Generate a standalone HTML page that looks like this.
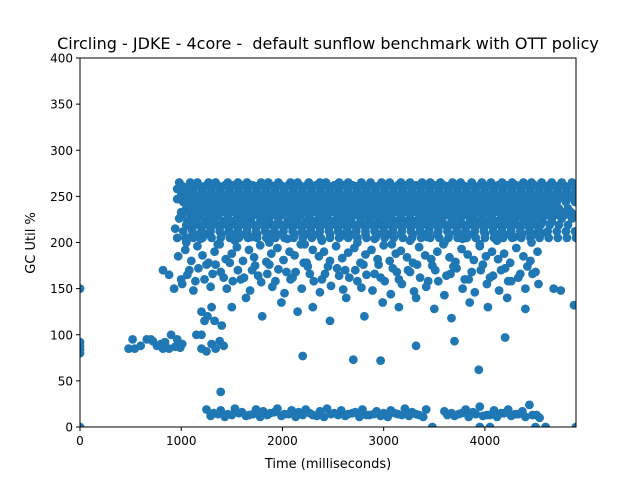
<!DOCTYPE html>
<html><head><meta charset="utf-8">
<style>
html,body{margin:0;padding:0;background:#fff;}
svg{display:block;font-family:"DejaVu Sans","Liberation Sans",sans-serif;}
</style></head>
<body>
<svg id="chart" width="640" height="480" viewBox="0 0 640 480" xmlns="http://www.w3.org/2000/svg">
<rect x="0" y="0" width="640" height="480" fill="#fff"/>
<text x="328" y="49" font-size="16" text-anchor="middle" fill="#000" style="white-space:pre">Circling - JDKE - 4core -  default sunflow benchmark with OTT policy</text>
<g id="marks"></g>
<g id="axes"></g>
<text x="328" y="468" font-size="13" text-anchor="middle">Time (milliseconds)</text>
<text transform="translate(35,243) rotate(-90)" font-size="13" text-anchor="middle">GC Util %</text>
</svg>
<script>
const xTicks = [0, 1000, 2000, 3000, 4000];
const yTicks = [0, 50, 100, 150, 200, 250, 300, 350, 400];
const bandYs = [265, 258, 251, 244, 237, 230, 223, 216, 209];
const bandXs = [
 [980,1090,1160,1270,1340,1460,1560,1650,1790,1860,1960,2080,2150,2260,2370,2430,2560,2650,2780,2870,2980,3060,3170,3260,3380,3460,3560,3680,3760,3870,3970,4060,4170,4270,4380,4460,4560,4660,4760,4860],
 [960,1040,1120,1210,1300,1390,1480,1570,1660,1750,1840,1930,2020,2110,2200,2290,2380,2470,2560,2650,2740,2830,2920,3010,3100,3190,3280,3370,3460,3550,3640,3730,3820,3910,4000,4090,4180,4270,4360,4450,4540,4630,4720,4810,4900],
 [1000,1080,1170,1250,1340,1430,1520,1610,1700,1790,1880,1970,2060,2150,2240,2330,2420,2510,2600,2690,2780,2870,2960,3050,3140,3230,3320,3410,3500,3590,3680,3770,3860,3950,4040,4130,4220,4310,4400,4490,4580,4670,4760,4850],
 [1020,1110,1200,1290,1380,1470,1560,1650,1740,1830,1920,2010,2100,2190,2280,2370,2460,2550,2640,2730,2820,2910,3000,3090,3180,3270,3360,3450,3540,3630,3720,3810,3900,3990,4080,4170,4260,4350,4440,4530,4620,4710,4800,4890],
 [1050,1130,1220,1310,1400,1490,1580,1670,1760,1850,1940,2030,2120,2210,2300,2390,2480,2570,2660,2750,2840,2930,3020,3110,3200,3290,3380,3470,3560,3650,3740,3830,3920,4010,4100,4190,4280,4370,4460,4550,4640,4730,4820],
 [1010,1100,1190,1280,1370,1460,1550,1640,1730,1820,1910,2000,2090,2180,2270,2360,2450,2540,2630,2720,2810,2900,2990,3080,3170,3260,3350,3440,3530,3620,3710,3800,3890,3980,4070,4160,4250,4340,4430,4520,4610,4700,4790,4880],
 [1060,1150,1240,1330,1420,1510,1600,1690,1780,1870,1960,2050,2140,2230,2320,2410,2500,2590,2680,2770,2860,2950,3040,3130,3220,3310,3400,3490,3580,3670,3760,3850,3940,4030,4120,4210,4300,4390,4480,4570,4660],
 [1100,1200,1290,1380,1470,1560,1650,1740,1830,1920,2010,2100,2190,2280,2370,2460,2550,2640,2730,2820,2910,3000,3090,3180,3270,3360,3450,3540,3630,3720,3810,3900,3990,4080,4170,4260,4350,4440,4530],
 [1130,1250,1400,1520,1630,1750,1880,1990,2120,2230,2350,2470,2590,2700,2820,2940,3060,3170,3290,3410,3530,3650,3760,3880,4000,4120,4240,4370,4480]
];
// second interleaved set of band rows (y level + which x-list it reuses)
const band2Ys = [261, 254, 247, 240, 233, 226, 219, 212, 205, 262, 248];
const band2Src = [5, 3, 1, 6, 2, 0, 4, 3, 1, 2, 4];
// scattered mid band points
const midX = [930,1010,1060,1120,1170,1230,1290,1340,1390,1450,1510,1560,1620,1680,1730,1790,1850,1900,1960,2020,2080,2130,2190,2250,2310,2370,2420,2480,2540,2600,2660,2720,2780,2830,2890,2950,3010,3070,3130,3180,3240,3300,3360,3420,3480,3540,3600,3660,3720,3780,3840,3900,3960,4020,4080,4140,4200,4260,4330,4400,4470,4530,
 970,1040,1100,1160,1210,1270,1330,1380,1440,1500,1550,1610,1670,1720,1780,1840,1890,1950,2010,2070,2120,2180,2240,2300,2360,2410,2470,2530,2590,2650,2710,2770,2820,2880,2940,3000,3060,3120,3170,3230,3290,3350,3410,3470,3530,3590,3650,3710,3770,3830,3890,3950,4010,4070,4130,4190,4250,4310,4380,4450,4520,
 820,880,940,1200,1500,1640,1800,1990,2150,2300,2470,2630,2810,2990,3150,3320,3500,3670,3850,4030,4220,4400,
 1000,1080,1140,1250,1310,1420,1480,1590,1700,1760,1870,1930,2040,2100,2210,2270,2390,2450,2560,2620,2740,2800,2910,2970,3090,3150,3260,3330,3440,3510,3620,3690,3800,3870,3980,4050,4160,4230,4350,4420,4500,
 1050,1190,1360,1530,1700,1870,2050,2220,2390,2570,2740,2910,3080,3260,3430,3600,3780,3950,4120,4290,4460,4560];
const midY = [150,155,165,148,172,160,152,176,168,150,158,170,162,148,175,157,166,152,171,145,160,168,150,174,158,146,166,153,172,149,162,170,151,165,148,176,158,144,168,155,170,147,162,152,175,158,143,166,172,150,160,146,170,155,164,148,172,158,162,150,166,155,
 185,192,180,196,186,178,190,198,182,188,195,180,192,184,197,179,188,194,181,190,186,198,178,192,185,190,180,196,183,189,194,178,187,192,182,197,180,188,191,184,178,195,186,182,190,198,184,179,193,187,181,196,185,190,182,188,178,194,185,180,190,
 170,165,215,125,130,140,120,135,125,130,115,140,120,135,130,140,128,118,135,130,140,128,
 160,170,158,176,166,162,178,160,170,164,176,158,168,162,178,166,160,174,164,170,158,176,166,162,172,160,168,176,158,170,164,174,160,168,176,162,170,158,166,174,168,
 200,204,198,202,206,200,204,198,202,206,200,204,198,202,206,200,204,198,202,206,200,210];
const lowX = [480,540,600,660,720,760,800,840,880,900,940,960,990,1010,520,700,820,1200,1250,1300,1340,1380,1420,1260,1330,1400,1150,1230,1300];
const lowY = [85,85,88,95,93,88,90,92,85,100,87,95,86,90,95,95,85,85,82,90,85,93,88,120,115,110,100,115,130];
const botX = [1250,1320,1390,1460,1530,1600,1670,1740,1810,1880,1950,2020,2090,2160,2230,2300,2370,2440,2510,2580,2650,2720,2790,2860,2930,3000,3070,3140,3210,3280,3350,3420,3600,3670,3740,3810,3880,3950,4020,4090,4160,4230,4300,4370,4440,4510,
 1290,1360,1430,1500,1570,1640,1710,1780,1850,1920,1990,2060,2130,2200,2270,2340,2410,2480,2550,2620,2690,2760,2830,2900,2970,3040,3110,3180,3250,3320,3390,3630,3700,3770,3840,3910,3980,4050,4120,4190,4260,4330,4400,4470,4540];
const botY = [19,15,18,14,20,16,13,19,17,15,20,14,18,16,19,13,17,20,15,18,14,16,19,13,17,15,18,14,20,16,13,19,17,15,14,19,16,22,13,18,15,19,14,17,24,13,
 12,14,11,13,15,12,14,11,13,16,12,14,11,13,15,12,11,14,13,12,15,11,13,14,12,11,15,13,12,14,11,13,12,15,11,14,12,13,11,15,12,14,11,13,10];
const outX = [0,0,0,0,0,0,1390,2200,2700,2970,3940,4880,4200,3700,3320,3480,3950,4050,4500,4600,4900,1200,1060,4680,4750];
const outY = [150,92,88,84,80,0,38,77,73,72,62,132,97,93,88,0,0,0,0,0,0,100,205,150,148];

const L=80,R=576,T=58,B=427,XMAX=4900,YMAX=400;
const xs=v=>L+v*(R-L)/XMAX, ys=v=>B-v*(B-T)/YMAX;
const NS="http://www.w3.org/2000/svg";
const marks=document.getElementById('marks');
const clip=document.createElementNS(NS,'clipPath');clip.setAttribute('id','pc');
const cr=document.createElementNS(NS,'rect');cr.setAttribute('x',L);cr.setAttribute('y',T);cr.setAttribute('width',R-L);cr.setAttribute('height',B-T);
clip.appendChild(cr);marks.appendChild(clip);marks.setAttribute('clip-path','url(#pc)');
function dot(x,y){
 const c=document.createElementNS(NS,'circle');
 
 
 c.setAttribute('cx',xs(x).toFixed(1));c.setAttribute('cy',ys(y).toFixed(1));c.setAttribute('r',4.4);c.setAttribute('fill','#1f77b4');
 marks.appendChild(c);
}
bandYs.forEach((y,i)=>bandXs[i].forEach(x=>dot(x,y)));
band2Ys.forEach((y,i)=>bandXs[band2Src[i]].forEach(x=>dot(x,y)));
midX.forEach((x,i)=>dot(x,midY[i]));
lowX.forEach((x,i)=>dot(x,lowY[i]));
botX.forEach((x,i)=>dot(x,botY[i]));
outX.forEach((x,i)=>dot(x,outY[i]));
const ax=document.getElementById('axes');
function el(t,a,txt){const e=document.createElementNS(NS,t);for(const k in a)e.setAttribute(k,a[k]);if(txt!==undefined)e.textContent=txt;ax.appendChild(e);return e;}
const frame=el('rect',{x:L,y:T,width:R-L,height:B-T,fill:'none',stroke:'#000','stroke-width':1});


xTicks.forEach(v=>{
 const x=xs(v);
 el('line',{x1:x,x2:x,y1:B,y2:B+4,stroke:'#000'});
 const t=el('text',{x:x,y:B+18,'font-size':12,'text-anchor':'middle'},String(v));
 
 
});
yTicks.forEach(v=>{
 const y=ys(v);
 el('line',{x1:L-4,x2:L,y1:y,y2:y,stroke:'#000'});
 const t=el('text',{x:L-7,y:y+4.5,'font-size':12,'text-anchor':'end'},String(v));
 
 
});
</script>
</body></html>
